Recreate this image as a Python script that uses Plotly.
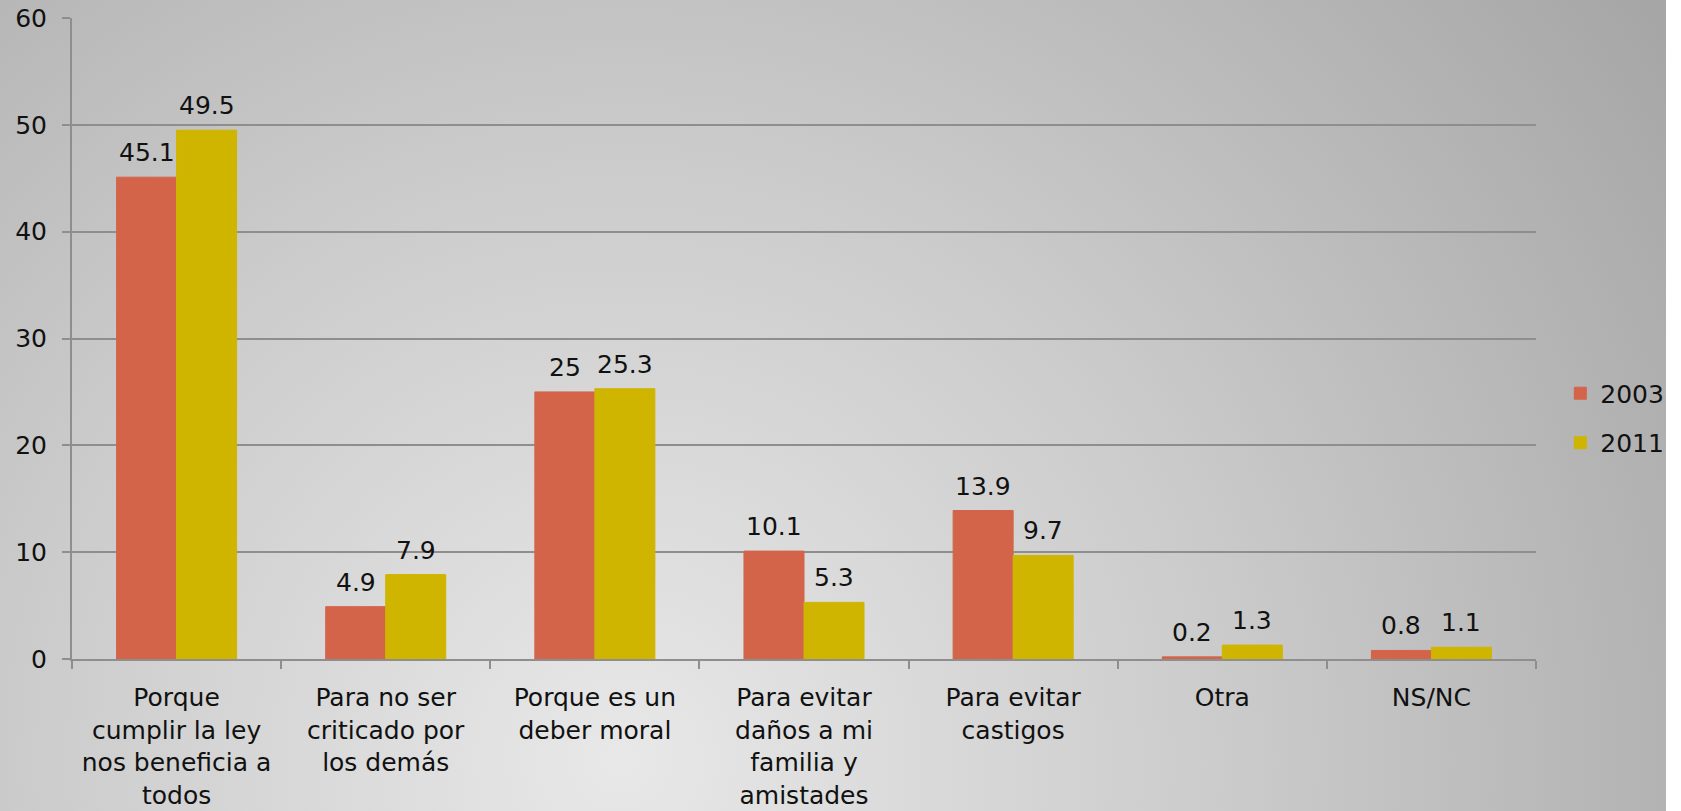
import base64
import plotly.graph_objects as go

categories = [
    "Porque<br>cumplir la ley<br>nos beneficia a<br>todos",
    "Para no ser<br>criticado por<br>los demás",
    "Porque es un<br>deber moral",
    "Para evitar<br>daños a mi<br>familia y<br>amistades",
    "Para evitar<br>castigos",
    "Otra",
    "NS/NC",
]
values_2003 = [45.1, 4.9, 25, 10.1, 13.9, 0.2, 0.8]
values_2011 = [49.5, 7.9, 25.3, 5.3, 9.7, 1.3, 1.1]
series_names = ["2003", "2011"]
y_ticks = [0, 10, 20, 30, 40, 50, 60]

COL_2003 = "#D3644A"
COL_2011 = "#CFB500"
GRID = "#8E8E8E"
FONT = "DejaVu Sans"
FS = 25
FS_CAT = 25

W, H = 1681, 811
L, R, T, B = 72, 1681 - 1536, 18, 811 - 659
PW, PH = W - L - R, H - T - B
BG_W = 1666

svg = f'''<svg xmlns="http://www.w3.org/2000/svg" width="{BG_W}" height="{H}" viewBox="0 0 {BG_W} {H}" preserveAspectRatio="none">
<defs><radialGradient id="g" gradientUnits="userSpaceOnUse" cx="620" cy="760" r="1350">
<stop offset="0" stop-color="#e8e8e8"/>
<stop offset="0.45" stop-color="#cbcbcb"/>
<stop offset="1" stop-color="#a2a2a2"/>
</radialGradient></defs>
<rect x="0" y="0" width="{BG_W}" height="{H}" fill="url(#g)"/></svg>'''
bg_src = "data:image/svg+xml;base64," + base64.b64encode(svg.encode()).decode()

fig = go.Figure()
fig.add_trace(go.Bar(name=series_names[0], x=categories, y=values_2003,
                     marker=dict(color=COL_2003, line=dict(width=1, color=COL_2003)),
                     legendgroup="a"))
fig.add_trace(go.Bar(name=series_names[1], x=categories, y=values_2011,
                     marker=dict(color=COL_2011, line=dict(width=1, color=COL_2011)),
                     legendgroup="b"))

annotations = []
for vals, shift in ((values_2003, -30), (values_2011, 30)):
    for c, v in zip(categories, vals):
        annotations.append(dict(x=c, y=v, xref="x", yref="y", text=f"{v:g}",
                                showarrow=False, xanchor="center", yanchor="bottom",
                                xshift=shift, yshift=8,
                                font=dict(family=FONT, size=FS, color="#111111")))

fig.update_layout(
    width=W, height=H,
    margin=dict(l=L, r=R, t=T, b=B, pad=0, autoexpand=False),
    paper_bgcolor="white",
    plot_bgcolor="rgba(0,0,0,0)",
    barmode="group",
    bargap=0.426,
    bargroupgap=0,
    font=dict(family=FONT, size=FS, color="#111111"),
    annotations=annotations,
    images=[dict(source=bg_src, xref="paper", yref="paper",
                 x=-L / PW, y=1 + T / PH, sizex=BG_W / PW, sizey=H / PH,
                 xanchor="left", yanchor="top", sizing="stretch", layer="below")],
    legend=dict(x=1.0166, y=0.376, xanchor="left", yanchor="middle",
                bgcolor="rgba(0,0,0,0)", font=dict(family=FONT, size=FS, color="#111111"),
                traceorder="grouped", tracegroupgap=14, itemwidth=30),
    xaxis=dict(showgrid=False, showline=True, linecolor=GRID, linewidth=2,
               ticks="outside", ticklen=8, tickwidth=2, tickcolor=GRID,
               tickson="boundaries", ticklabelstandoff=15, automargin=False,
               tickfont=dict(family=FONT, size=FS_CAT, color="#111111")),
    yaxis=dict(range=[0, 60], tickvals=y_ticks, showgrid=True, gridcolor=GRID,
               gridwidth=2, showline=True, linecolor=GRID, linewidth=2,
               ticks="outside", ticklen=8, tickwidth=2, tickcolor=GRID,
               zeroline=False, ticklabelstandoff=10, automargin=False,
               tickfont=dict(family=FONT, size=FS, color="#111111")),
)

fig.write_html("out.html", config={"displayModeBar": False},
               post_script="document.body.style.margin='0';document.body.style.padding='0';document.body.style.overflow='hidden';")
